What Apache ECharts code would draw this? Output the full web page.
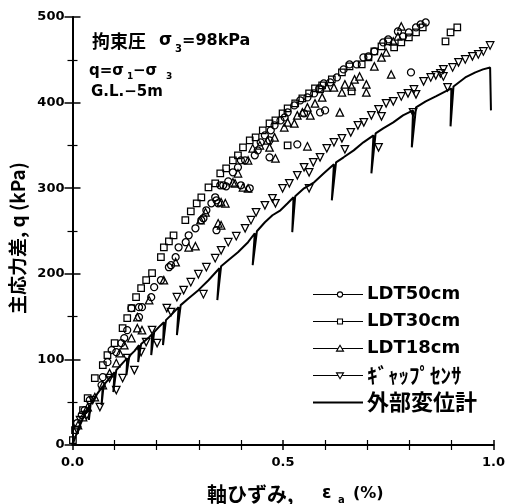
<!DOCTYPE html>
<html><head><meta charset="utf-8">
<script src="https://cdn.jsdelivr.net/npm/echarts/dist/echarts.min.js"></script>
<style>html,body{margin:0;padding:0;background:#fff}#c{width:508px;height:504px}</style>
</head><body><div id="c"></div>
<script>
// ---- data (axial strain %, deviator stress kPa) ----
const xTicks = [0, 0.5, 1.0];
const yTicks = [0, 100, 200, 300, 400, 500];
const legendNames = ['LDT50cm', 'LDT30cm', 'LDT18cm', 'ｷﾞｬｯﾌﾟｾﾝｻ', '外部変位計'];

const ldt50 = [[0.011,25.7],[0.022,35],[0.029,40.8],[0.041,52.5],[0.069,70],[0.072,79.3],[0.083,96.8],[0.093,110.9],[0.104,108.5],[0.116,119],[0.123,124.9],[0.130,134.2],[0.140,159.9],[0.158,149.4],[0.158,161],[0.165,161],[0.187,172.7],[0.194,184.4],[0.210,192.5],[0.229,207.7],[0.234,210],[0.245,219.4],[0.252,231],[0.269,236.9],[0.276,245],[0.292,253.2],[0.306,262.6],[0.311,264.9],[0.318,274.2],[0.330,282.4],[0.339,289.4],[0.342,250.9],[0.342,285.9],[0.346,282.4],[0.351,303.4],[0.358,303.4],[0.365,302.2],[0.370,308],[0.381,318.6],[0.393,324.4],[0.400,303.4],[0.400,332.6],[0.410,332.6],[0.421,299.9],[0.433,338.4],[0.440,344.2],[0.447,353.6],[0.457,361.7],[0.468,355.9],[0.468,336.1],[0.471,367.6],[0.480,373.4],[0.494,379.2],[0.504,382.7],[0.511,388.6],[0.527,396.7],[0.534,351.2],[0.541,402.6],[0.550,387.4],[0.558,406.1],[0.574,410.8],[0.586,416.6],[0.588,388.6],[0.600,390.9],[0.597,422.4],[0.612,423.6],[0.628,429.4],[0.644,438.8],[0.658,444.6],[0.675,444.6],[0.691,452.8],[0.703,453.9],[0.717,459.8],[0.738,470.3],[0.750,473.8],[0.773,483.1],[0.785,477.3],[0.799,481.9],[0.804,435.3],[0.816,487.8],[0.827,491.3],[0.839,493.6]];

const ldt30 = [[0.001,5.8],[0.006,17.5],[0.025,40.8],[0.036,54.8],[0.053,78.2],[0.072,93.4],[0.083,105],[0.100,119],[0.119,136.5],[0.130,148.2],[0.140,159.9],[0.151,172.7],[0.163,183.2],[0.175,192.5],[0.189,200.7],[0.210,219.4],[0.217,231],[0.229,238],[0.240,245],[0.268,262.6],[0.281,273],[0.295,282.4],[0.306,289.4],[0.323,301],[0.339,305.7],[0.351,317.4],[0.365,323.2],[0.381,332.6],[0.393,338.4],[0.405,347.7],[0.421,355.9],[0.435,359.4],[0.452,367.6],[0.468,375.7],[0.482,379.2],[0.499,387.4],[0.511,393.3],[0.511,350.1],[0.529,399.1],[0.546,404.9],[0.562,410.8],[0.576,416.6],[0.588,415.4],[0.593,420.1],[0.616,427.1],[0.640,435.3],[0.658,442.3],[0.663,413.1],[0.687,444.6],[0.703,452.8],[0.717,459.8],[0.734,465.6],[0.750,471.4],[0.764,464.4],[0.781,470.3],[0.799,476.1],[0.816,481.9],[0.832,487.8],[0.886,471.4],[0.898,481.9],[0.914,487.8]];

const ldt18 = [[0.013,23.3],[0.025,32.7],[0.036,44.3],[0.053,56],[0.072,70],[0.088,84],[0.104,95.7],[0.112,107.4],[0.123,116.7],[0.140,124.9],[0.154,136.5],[0.165,134.2],[0.154,149.4],[0.182,169.2],[0.217,192.5],[0.245,213.5],[0.276,231],[0.292,232.2],[0.304,262.6],[0.316,271.9],[0.346,259],[0.353,256.7],[0.353,283.6],[0.363,282.4],[0.381,306.9],[0.386,305.7],[0.393,317.4],[0.405,301],[0.417,299.9],[0.417,332.6],[0.428,346.6],[0.445,350.1],[0.463,355.9],[0.468,347.7],[0.480,359.4],[0.482,334.9],[0.503,371.1],[0.511,376.9],[0.527,375.7],[0.534,385.1],[0.546,388.6],[0.558,394.4],[0.558,348.9],[0.565,385.1],[0.576,399.1],[0.593,406.1],[0.604,417.8],[0.621,417.8],[0.635,388.6],[0.640,411.9],[0.647,421.3],[0.663,418.9],[0.670,427.1],[0.682,430.6],[0.698,421.3],[0.698,411.9],[0.717,442.3],[0.734,452.8],[0.745,458.6],[0.757,432.9],[0.762,471.4],[0.773,477.3],[0.781,489]];

const gapSensor = [[0.011,17.5],[0.018,29.2],[0.034,35],[0.048,52.5],[0.065,44.3],[0.088,78.2],[0.104,64.2],[0.119,78.2],[0.130,101.5],[0.147,87.5],[0.163,108.5],[0.175,120.2],[0.189,134.2],[0.201,119],[0.224,159.9],[0.234,155.2],[0.248,172.7],[0.264,180.9],[0.281,190.2],[0.299,199.5],[0.311,176.2],[0.318,207.7],[0.339,218.2],[0.353,227.5],[0.370,236.9],[0.389,243.9],[0.410,253.2],[0.424,262.6],[0.436,271.9],[0.457,280],[0.475,288.2],[0.482,282.4],[0.499,299.9],[0.515,305.7],[0.534,315.1],[0.550,324.4],[0.562,318.6],[0.562,299.9],[0.572,330.2],[0.588,336.1],[0.604,346.6],[0.621,353.6],[0.640,358.2],[0.647,345.4],[0.661,365.2],[0.678,373.4],[0.692,376.9],[0.710,385.1],[0.727,392.1],[0.727,347.7],[0.734,383.9],[0.745,399.1],[0.762,401.4],[0.781,407.2],[0.797,410.8],[0.809,388.6],[0.811,415.4],[0.816,409.6],[0.834,424.8],[0.851,429.4],[0.863,431.8],[0.874,434.1],[0.881,438.8],[0.881,430.6],[0.891,417.8],[0.903,441.1],[0.917,447],[0.933,450.4],[0.950,454],[0.964,456.3],[0.976,459.8],[0.992,466.8]];

const external = [[0,0],[0.011,15.2],[0.025,31.5],[0.041,46.7],[0.039,29.2],[0.043,47.8],[0.060,60.7],[0.072,68.8],[0.069,46.7],[0.074,70],[0.088,78.2],[0.100,85.2],[0.097,61.8],[0.104,87.5],[0.119,95.7],[0.130,101.5],[0.128,81.7],[0.135,103.9],[0.147,109.7],[0.158,116.7],[0.156,96.9],[0.163,117.9],[0.182,126],[0.189,129.5],[0.187,105],[0.194,131.9],[0.205,137.7],[0.217,143.5],[0.215,116.7],[0.222,145.9],[0.234,151.7],[0.252,161],[0.248,128.4],[0.257,163.4],[0.276,171.5],[0.299,180.9],[0.323,192.5],[0.349,206.5],[0.344,169.2],[0.353,208.9],[0.370,215.9],[0.393,225.2],[0.417,236.9],[0.433,247.4],[0.428,210],[0.438,249.7],[0.457,260.2],[0.475,268.4],[0.494,274.2],[0.511,282.4],[0.525,289.4],[0.522,248.6],[0.529,290.6],[0.550,299.9],[0.574,306.9],[0.597,317.4],[0.621,327.9],[0.616,285.9],[0.626,330.2],[0.644,336.1],[0.668,344.2],[0.691,353.6],[0.715,361.7],[0.710,317.4],[0.720,364.1],[0.738,369.9],[0.762,376.9],[0.785,385.1],[0.809,390.9],[0.806,347.7],[0.816,394.4],[0.839,401.4],[0.863,407.2],[0.886,413.1],[0.900,416.6],[0.898,372.2],[0.905,418.9],[0.933,429.4],[0.957,435.3],[0.975,438.8],[0.992,441.1],[0.994,390.9]];

// ---- chart ----
const chart = echarts.init(document.getElementById('c'), null, {renderer: 'canvas'});
const LAT = '"DejaVu Sans", "Noto Sans CJK JP", sans-serif';
const CJK = '"Noto Sans CJK JP", "DejaVu Sans", sans-serif';
const mk = {color: 'rgba(255,255,255,0)', borderColor: '#000', borderWidth: 1.25, opacity: 1};

function axisCommon(showLabel) {
  return {
    axisLine: {show: true, lineStyle: {color: '#000', width: 2}},
    axisTick: {show: true, inside: true, length: 8, lineStyle: {color: '#000', width: 1.5}},
    minorTick: {show: true, length: 5, lineStyle: {color: '#000', width: 1.2}},
    splitLine: {show: false},
    axisLabel: {show: showLabel, color: '#000', fontFamily: LAT, fontWeight: 'bold', fontSize: 13}
  };
}

const xMain = Object.assign(axisCommon(true), {
  type: 'value', min: xTicks[0], max: xTicks[xTicks.length - 1], interval: 0.5, position: 'bottom',
  minorTick: {show: true, splitNumber: 5, length: 5, lineStyle: {color: '#000', width: 1.2}}
});
xMain.axisTick.length = 5;
xMain.axisLabel.margin = 11;
xMain.axisLabel.formatter = v => v.toFixed(1);
const xTop = Object.assign(axisCommon(false), {
  type: 'value', min: 0, max: 1, interval: 0.5, position: 'top',
  minorTick: {show: true, splitNumber: 5, length: 5, lineStyle: {color: '#000', width: 1.2}}
});
xTop.axisLine.lineStyle.width = 1.5;
xTop.axisTick.length = 5;

const yMain = Object.assign(axisCommon(true), {
  type: 'value', min: yTicks[0], max: yTicks[yTicks.length - 1], interval: 100, position: 'left',
  minorTick: {show: true, splitNumber: 2, length: 5, lineStyle: {color: '#000', width: 1.2}}
});
yMain.axisLabel.margin = 8;
const yRight = Object.assign(axisCommon(false), {
  type: 'value', min: 0, max: 500, interval: 100, position: 'right',
  minorTick: {show: true, splitNumber: 2, length: 5, lineStyle: {color: '#000', width: 1.2}}
});
yRight.axisLine.lineStyle.width = 1.5;

// legend (drawn as graphic)
const legY = [294, 321, 348, 375, 402];
const legFonts = ['bold 18px ' + LAT, 'bold 18px ' + LAT, 'bold 18px ' + LAT, 'bold 21px ' + CJK, 'bold 22px ' + CJK];
const legendGraphics = [];
legendNames.forEach((name, i) => {
  const y = legY[i] + 0.5;
  legendGraphics.push({type: 'line', shape: {x1: 313, y1: y, x2: 363, y2: y},
    style: {stroke: '#000', lineWidth: i === 4 ? 2 : 1.2}, silent: true});
  const st = {fill: '#fff', stroke: '#000', lineWidth: 1.1};
  if (i === 0) legendGraphics.push({type: 'circle', shape: {cx: 340, cy: y, r: 2.6}, style: st});
  if (i === 1) legendGraphics.push({type: 'rect', shape: {x: 337.5, y: y - 2.5, width: 5, height: 5}, style: st});
  if (i === 2) legendGraphics.push({type: 'polygon', shape: {points: [[340, y - 3.2], [343.5, y + 2.6], [336.5, y + 2.6]]}, style: st});
  if (i === 3) legendGraphics.push({type: 'polygon', shape: {points: [[340, y + 3.2], [343.5, y - 2.6], [336.5, y - 2.6]]}, style: st});
  legendGraphics.push({type: 'text', style: {text: name, x: 367, y: legY[i], fill: '#000',
    font: legFonts[i], textVerticalAlign: 'middle', textAlign: 'left'}});
});

function txt(t, x, y, size, fam) {
  return {type: 'text', style: {text: t, x: x, y: y, fill: '#000',
    font: 'bold ' + size + 'px ' + (fam || LAT), textVerticalAlign: 'middle', textAlign: 'left'}};
}

const annot = [
  txt('拘束圧', 92, 41, 18, CJK),
  txt('σ', 159, 41, 17),
  txt('3', 175, 49, 10),
  txt('=98kPa', 182, 41, 16),
  txt('q=σ', 89, 71, 15),
  txt('1', 127, 77, 9),
  txt('−σ', 133, 71, 15),
  txt('3', 166, 77, 9),
  txt('G.L.−5m', 91, 92, 15),
  txt('軸ひずみ,', 207, 494, 20, CJK),
  txt('ε', 322, 494, 17),
  txt('a', 338, 500, 10),
  txt('(%)', 353, 494, 16)
];
annot.push({type: 'text', x: 18, y: 238, rotation: Math.PI / 2,
  style: {text: '主応力差, q (kPa)', x: 0, y: 0, fill: '#000', font: 'bold 19px ' + CJK,
    textAlign: 'center', textVerticalAlign: 'middle'}});

chart.setOption({
  backgroundColor: '#fff',
  animation: false,
  grid: {left: 72.5, right: 9.5, top: 17, bottom: 59, containLabel: false},
  xAxis: [xMain, xTop],
  yAxis: [yMain, yRight],
  series: [
    {name: 'LDT50cm', type: 'scatter', data: ldt50, symbol: 'circle', symbolSize: 7, itemStyle: mk},
    {name: 'LDT30cm', type: 'scatter', data: ldt30, symbol: 'rect', symbolSize: 6.5, itemStyle: mk},
    {name: 'LDT18cm', type: 'scatter', data: ldt18, symbol: 'triangle', symbolSize: 7.5, itemStyle: mk},
    {name: 'ｷﾞｬｯﾌﾟｾﾝｻ', type: 'scatter', data: gapSensor, symbol: 'triangle', symbolRotate: 180, symbolSize: 7.5, itemStyle: mk},
    {name: '外部変位計', type: 'line', data: external, showSymbol: false, symbol: 'none',
      lineStyle: {color: '#000', width: 2}, z: 5}
  ],
  graphic: legendGraphics.concat(annot)
});
</script></body></html>
